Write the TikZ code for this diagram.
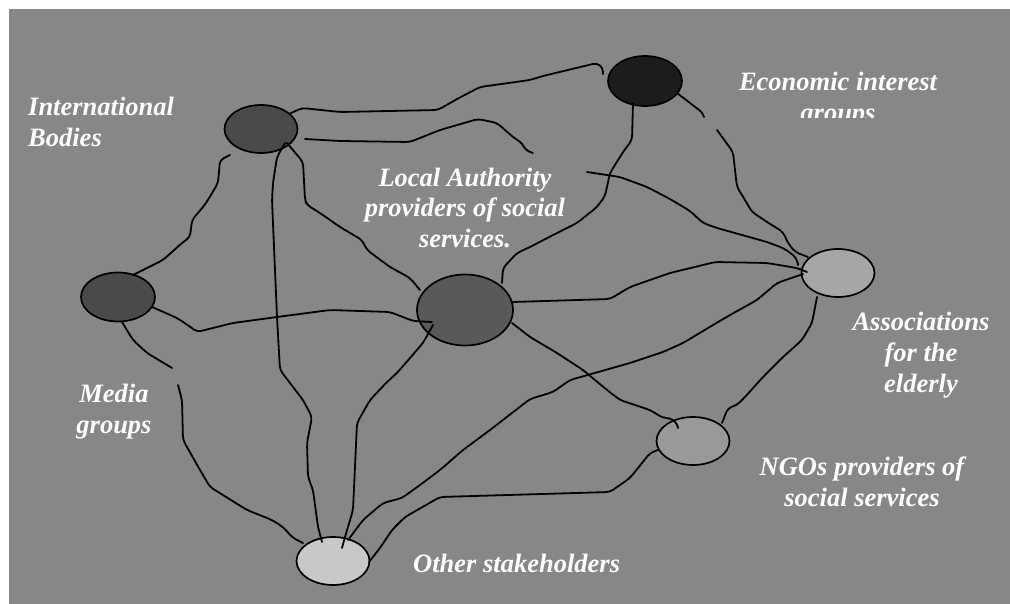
\documentclass[tikz,border=0pt]{standalone}
\usepackage{fontspec}
\setmainfont{Liberation Serif}
\usetikzlibrary{shapes.geometric,calc}
\definecolor{bggray}{RGB}{135,135,135}
\definecolor{fdark}{RGB}{74,74,74}
\definecolor{fblack}{RGB}{28,28,28}
\definecolor{fmid}{RGB}{89,89,89}
\definecolor{flight}{RGB}{166,166,166}
\definecolor{fngo}{RGB}{153,153,153}
\definecolor{fpale}{RGB}{200,200,200}
\begin{document}
\begin{tikzpicture}[x=1pt,y=-1pt,
  actor/.style={ellipse,draw=black,line width=1.7pt,inner sep=0pt,outer sep=0pt,minimum width=73pt,minimum height=48pt},
  lbl/.style={text=white,font=\fontsize{26.5}{31}\selectfont\bfseries\itshape,inner sep=0pt,align=center},
  link/.style={draw=black,line width=1.8pt,rounded corners=4pt,line cap=round,line join=round}]
\useasboundingbox (0,0) rectangle (1010,604);
\fill[white] (0,0) rectangle (1010,604);
\fill[bggray] (9,9) rectangle (1010,604);

% actors
\node[actor,fill=fdark] (ib) at (261,129) {};
\node[actor,fill=fblack,minimum width=74pt,minimum height=50pt] (econ) at (645,81) {};
\node[actor,fill=fdark,minimum width=74pt,minimum height=49pt] (media) at (118,297) {};
\node[actor,fill=fmid,minimum width=96pt,minimum height=71pt] (la) at (465,310) {};
\node[actor,fill=flight] (assoc) at (838,273) {};
\node[actor,fill=fngo] (ngo) at (693,441) {};
\node[actor,fill=fpale] (other) at (333,561) {};

% labels (anchor base = baseline of the last line)
\node[lbl,anchor=base west,align=left] (ibl) at (28,147) {International\\Bodies};
\begin{scope}
\clip (600,9) rectangle (1010,118);
\node[lbl,anchor=base] (econl) at (838,122) {Economic interest\\groups};
\end{scope}
\node[lbl,anchor=base] (lal) at (465,248) {Local Authority\\providers of social\\services.};
\node[lbl,anchor=base] (assocl) at (921,392) {Associations\\for the\\elderly};
\node[lbl,anchor=base] (medial) at (114,433) {Media\\groups};
\node[lbl,anchor=base] (ngol) at (862,506) {NGOs providers of\\social services};
\node[lbl,anchor=base west] (otherl) at (413,572) {Other stakeholders};

% free ends of interrupted connectors
\coordinate (g2a) at (533,153);
\coordinate (g2b) at (587,172);
\coordinate (g7a) at (172,368);
\coordinate (g7b) at (178,385);
\coordinate (g12a) at (704,117);
\coordinate (g12b) at (717,130);

% connectors
\draw[link] ($(ib)+(28,-15)$) -- (302,108) -- (340,112) -- (438,110) -- (457,99) -- (480,87) -- (530,80) -- (543,76) -- (597,63) -- (603,68) -- ($(econ)+(-42,-7)$);
\draw[link] ($(ib)+(44,10)$) -- (340,141) -- (410,142) -- (440,130) -- (478,119) -- (497,123) -- (513,137) -- (523,144) -- (525,150) -- (g2a);
\draw[link] (g2b) -- (620,177) -- (647,187) -- (670,199) -- (690,211) -- (703,223) -- (717,228) -- (767,242) -- (783,248) -- (792,254) -- (797,259) -- ($(assoc)+(-40,-8)$);
\draw[link] ($(econ)+(32,12)$) -- (690,103) -- (703,113) -- (g12a);
\draw[link] (g12b) -- (733,152) -- (735,170) -- (737,187) -- (745,200) -- (752,212) -- (767,222) -- (783,232) -- (788,243) -- (795,252) -- ($(assoc)+(-30,-16)$);
\draw[link] ($(la)+(48,-8)$) -- (610,299) -- (630,287) -- (650,280) -- (670,273) -- (703,265) -- (715,262) -- (767,263) -- (797,268) -- ($(assoc)+(-31,-1)$);
\draw[link] ($(other)+(15,-21)$) -- (363,520) -- (383,503) -- (402,498) -- (420,485) -- (440,470) -- (463,450) -- (490,430) -- (530,399) -- (553,392) -- (570,380) -- (630,363) -- (663,352) -- (683,343) -- (713,325) -- (730,315) -- (757,300) -- (777,283) -- ($(assoc)+(-35,1)$);
\draw[link] ($(other)+(36,1)$) -- (380,548) -- (392,530) -- (405,517) -- (440,497) -- (610,492) -- (630,478) -- (650,453) -- ($(ngo)+(-35,9)$);
\draw[link] ($(la)+(-32,15)$) -- (423,343) -- (397,373) -- (387,382) -- (370,400) -- (357,423) -- (353,510) -- (345,537) -- ($(other)+(9,-13)$);
\draw[link] ($(la)+(47,13)$) -- (530,337) -- (557,353) -- (583,370) -- (607,390) -- (620,400) -- (650,410) -- (663,418) -- (670,418) -- (677,423) -- ($(ngo)+(-15,-13)$);
\draw[link] ($(ngo)+(29,-18)$) -- (728,408) -- (737,405) -- (745,397) -- (763,377) -- (783,357) -- (802,340) -- (812,323) -- ($(assoc)+(-21,24)$);
\draw[link] ($(la)+(37,-27)$) -- (503,268) -- (517,253) -- (530,247) -- (557,233) -- (577,223) -- (597,207) -- (605,196) -- (610,173) -- (623,152) -- (632,140) -- ($(econ)+(-12,22)$);
\draw[link] ($(ib)+(26,14)$) -- (303,162) -- (305,200) -- (307,205) -- (320,213) -- (340,227) -- (362,240) -- (367,250) -- (390,267) -- (410,278) -- ($(la)+(-45,-20)$);
\draw[link] ($(ib)+(24,14)$) -- (277,157) -- (273,183) -- (272,200) -- (277,317) -- (280,370) -- (290,383) -- (303,400) -- (312,417) -- (307,443) -- (308,477) -- (313,490) -- (318,527) -- ($(other)+(-11,-19)$);
\draw[link] ($(media)+(15,-22)$) -- (163,260) -- (182,243) -- (190,237) -- (192,220) -- (203,207) -- (208,200) -- (218,183) -- (220,160) -- ($(ib)+(-31,26)$);
\draw[link] ($(media)+(34,10)$) -- (177,318) -- (192,328) -- (197,332) -- (233,323) -- (277,317) -- (330,310) -- (390,312) -- (413,321) -- ($(la)+(-33,12)$);
\draw[link] ($(media)+(4,25)$) -- (133,340) -- (147,353) -- (g7a);
\draw[link] (g7b) -- (182,400) -- (183,440) -- (200,470) -- (210,487) -- (247,510) -- (272,520) -- (283,527) -- (293,538) -- ($(other)+(-30,-18)$);
\end{tikzpicture}
\end{document}
